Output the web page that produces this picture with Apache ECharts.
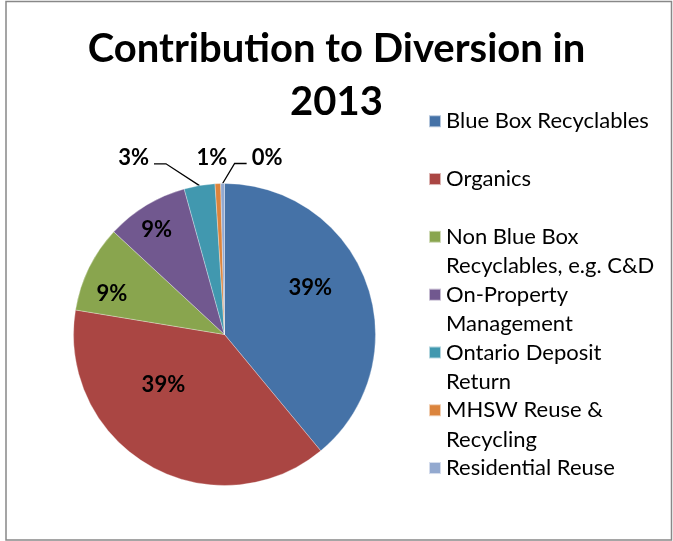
<!DOCTYPE html>
<html><head><meta charset="utf-8">
<script src="https://cdn.jsdelivr.net/npm/echarts@6/dist/echarts.min.js"></script>
<style>html,body{margin:0;padding:0;background:#fff}#c{width:673px;height:541px}</style>
</head><body><div id="c"></div>
<script>
const titleText = 'Contribution to Diversion in\n2013';
const categories = ['Blue Box Recyclables', 'Organics', 'Non Blue Box Recyclables, e.g. C&D', 'On-Property Management', 'Ontario Deposit Return', 'MHSW Reuse & Recycling', 'Residential Reuse'];
const legendLines = [['Blue Box Recyclables'], ['Organics'], ['Non Blue Box', 'Recyclables, e.g. C&D'], ['On-Property', 'Management'], ['Ontario Deposit', 'Return'], ['MHSW Reuse &', 'Recycling'], ['Residential Reuse']];
const shares = [39.0, 38.6, 9.3, 8.8, 3.3, 0.6, 0.4];
const colors = ['#4572A7', '#AA4643', '#89A54E', '#71588F', '#4198AF', '#DB843D', '#93A9CF'];

const FONT = 'Lato';
const insideIdx = [0, 1, 2, 3];
const labelShift = [[12, -20], [-22, -18], [-42, -6], [-27, -38], [-28, -13], [30, -11], [80, -11]];
const lineSide = [0, 0, 0, 0, -1, 0, 1];

const chart = echarts.init(document.getElementById('c'), null, {renderer: 'canvas'});
chart.setOption({
  animation: false,
  backgroundColor: '#fff',
  color: colors,
  graphic: [{type: 'rect', shape: {x: 6, y: 1.5, width: 665.5, height: 538.5}, style: {fill: 'none', stroke: '#888', lineWidth: 1.5}, silent: true}],
  title: {
    text: titleText, left: 'center', top: 23, padding: 0,
    textStyle: {fontFamily: FONT, fontWeight: 'bold', fontSize: 40, lineHeight: 53, color: '#000'}
  },
  legend: {
    orient: 'vertical', left: 428, top: 77, padding: 0,
    itemWidth: 12, itemHeight: 12, itemGap: -30.7, icon: 'rect',
    data: categories,
    formatter: function (name) {
      const lines = legendLines[categories.indexOf(name)];
      return ' \n' + lines.join('\n') + (lines.length < 2 ? '\n ' : '');
    },
    textStyle: {fontFamily: FONT, fontSize: 22, lineHeight: 29.5, color: '#000'}
  },
  series: [{
    type: 'pie',
    center: [224.5, 334.5], radius: 151,
    startAngle: 90, clockwise: true,
    avoidLabelOverlap: false,
    itemStyle: {borderColor: 'rgba(255,255,255,0.6)', borderWidth: 0.5},
    label: {
      formatter: function (p) { return Math.round(p.percent) + '%'; },
      fontFamily: FONT, fontWeight: 'bold', fontSize: 22, color: '#000'
    },
    labelLine: {length: 15, length2: 15, lineStyle: {color: '#000', width: 1.3}},
    labelLayout: function (p) {
      const s = labelShift[p.dataIndex];
      const out = {dx: s[0], dy: s[1]};
      const side = lineSide[p.dataIndex];
      const pts = p.labelLinePoints;
      if (side && pts) {
        const r = p.labelRect;
        const cy = r.y + s[1] + r.height / 2 + 6;
        const ex = side < 0 ? r.x + s[0] + r.width + 5 : r.x + s[0] - 5;
        out.labelLinePoints = [pts[0], [ex - side * 12, cy], [ex, cy]];
      }
      return out;
    },
    emphasis: {disabled: true},
    data: categories.map(function (name, i) {
      const item = {name: name, value: shares[i]};
      item.label = {position: insideIdx.indexOf(i) >= 0 ? 'inside' : 'outside'};
      if (!lineSide[i] && insideIdx.indexOf(i) < 0) item.labelLine = {show: false};
      return item;
    })
  }]
});
</script>
</body></html>
